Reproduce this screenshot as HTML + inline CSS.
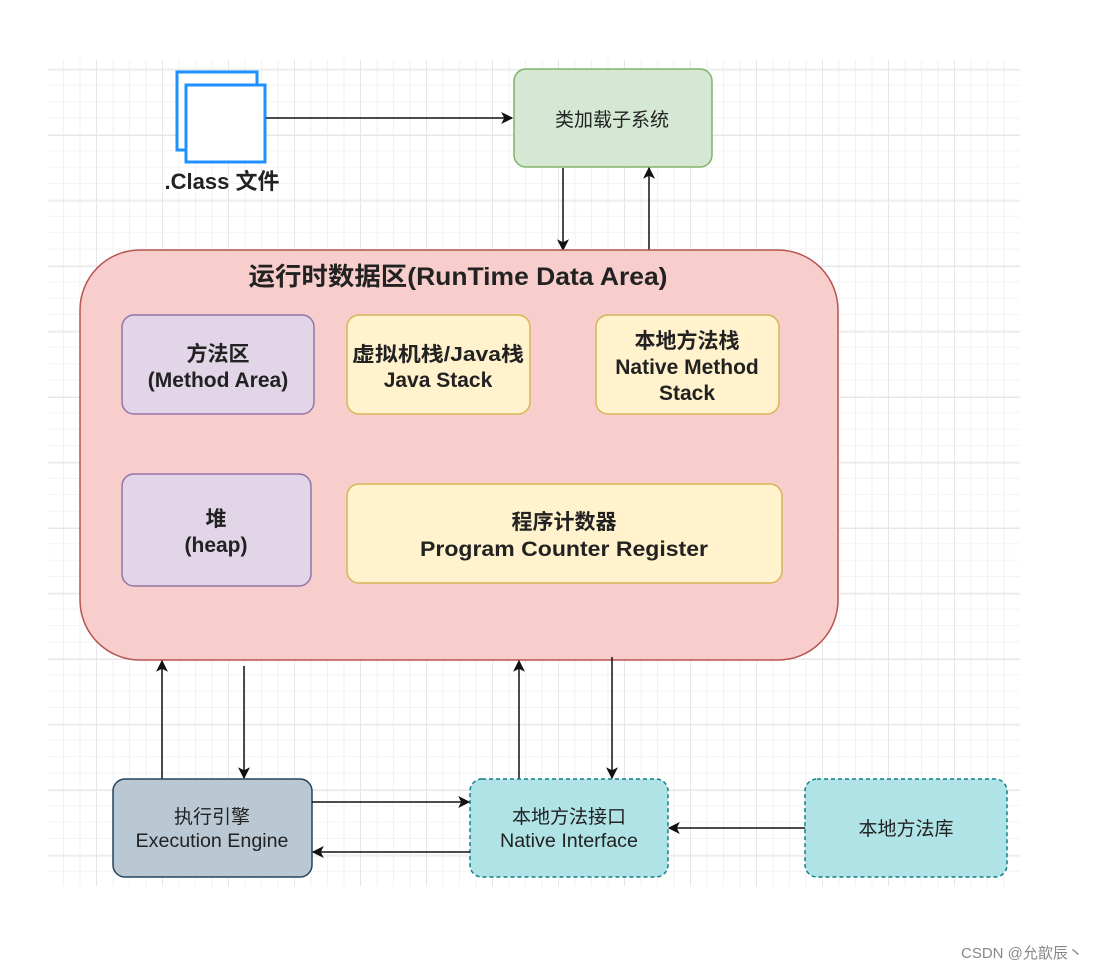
<!DOCTYPE html>
<html><head><meta charset="utf-8"><style>
html,body{margin:0;padding:0;background:#fff;}
svg{display:block;}
text{font-family:"Liberation Sans","Noto Sans CJK SC",sans-serif;fill:#222;}
.b{font-weight:bold;}
</style></head><body>
<svg width="1106" height="969" viewBox="0 0 1106 969" xmlns="http://www.w3.org/2000/svg">
<defs>
<pattern id="minor" x="47.5" y="53" width="16.5" height="16.375" patternUnits="userSpaceOnUse">
<path d="M16 0V17M0 16H17" stroke="#f2f2f2" stroke-width="1" fill="none"/>
</pattern>
<pattern id="major" x="30" y="4" width="66" height="65.5" patternUnits="userSpaceOnUse">
<path d="M0.5 0V66M0 0.5H66" stroke="#e6e6e6" stroke-width="1" fill="none"/>
</pattern>
<marker id="a" viewBox="0 0 10 10" refX="9" refY="5" markerWidth="12" markerHeight="12" markerUnits="userSpaceOnUse" orient="auto">
<path d="M0 0L10 5L0 10L2.5 5z" fill="#111"/>
</marker>
</defs>
<rect x="48" y="60" width="972" height="826" fill="url(#minor)"/>
<rect x="48" y="60" width="972" height="826" fill="url(#major)"/>

<rect x="177" y="72" width="80" height="78" fill="#fff" stroke="#1e90ff" stroke-width="3"/>
<rect x="186" y="85" width="79" height="77" fill="#fff" stroke="#1e90ff" stroke-width="3"/>
<text x="222" y="189" text-anchor="middle" font-size="22" class="b">.Class 文件</text>

<line x1="266" y1="118" x2="512" y2="118" stroke="#111" stroke-width="1.5" marker-end="url(#a)"/>

<rect x="514" y="69" width="198" height="98" rx="12" fill="#d5e8d4" stroke="#82b366" stroke-width="1.5"/>
<text x="612" y="126" text-anchor="middle" font-size="19">类加载子系统</text>

<line x1="563" y1="168" x2="563" y2="250" stroke="#111" stroke-width="1.5" marker-end="url(#a)"/>
<line x1="649" y1="250" x2="649" y2="168" stroke="#111" stroke-width="1.5" marker-end="url(#a)"/>

<rect x="80" y="250" width="758" height="410" rx="60" fill="#f8cecc" stroke="#b85450" stroke-width="1.5"/>
<text x="458" y="285" text-anchor="middle" font-size="25" class="b" textLength="419" lengthAdjust="spacingAndGlyphs">运行时数据区(RunTime Data Area)</text>

<rect x="122" y="315" width="192" height="99" rx="12" fill="#e1d5e7" stroke="#9673a6" stroke-width="1.5"/>
<text x="218" y="361" text-anchor="middle" font-size="21" class="b">方法区</text>
<text x="218" y="387" text-anchor="middle" font-size="21" class="b">(Method Area)</text>

<rect x="347" y="315" width="183" height="99" rx="12" fill="#fff2cc" stroke="#d6b656" stroke-width="1.5"/>
<text x="438" y="361" text-anchor="middle" font-size="20" class="b" textLength="172" lengthAdjust="spacingAndGlyphs">虚拟机栈/Java栈</text>
<text x="438" y="387" text-anchor="middle" font-size="21" class="b">Java Stack</text>

<rect x="596" y="315" width="183" height="99" rx="12" fill="#fff2cc" stroke="#d6b656" stroke-width="1.5"/>
<text x="687" y="348" text-anchor="middle" font-size="21" class="b">本地方法栈</text>
<text x="687" y="374" text-anchor="middle" font-size="21" class="b">Native Method</text>
<text x="687" y="400" text-anchor="middle" font-size="21" class="b">Stack</text>

<rect x="122" y="474" width="189" height="112" rx="12" fill="#e1d5e7" stroke="#9673a6" stroke-width="1.5"/>
<text x="216" y="526" text-anchor="middle" font-size="21" class="b">堆</text>
<text x="216" y="552" text-anchor="middle" font-size="21" class="b">(heap)</text>

<rect x="347" y="484" width="435" height="99" rx="12" fill="#fff2cc" stroke="#d6b656" stroke-width="1.5"/>
<text x="564" y="529" text-anchor="middle" font-size="21" class="b">程序计数器</text>
<text x="564" y="556" text-anchor="middle" font-size="21" class="b" textLength="288" lengthAdjust="spacingAndGlyphs">Program Counter Register</text>

<line x1="162" y1="779" x2="162" y2="661" stroke="#111" stroke-width="1.5" marker-end="url(#a)"/>
<line x1="244" y1="666" x2="244" y2="778" stroke="#111" stroke-width="1.5" marker-end="url(#a)"/>
<line x1="519" y1="779" x2="519" y2="661" stroke="#111" stroke-width="1.5" marker-end="url(#a)"/>
<line x1="612" y1="657" x2="612" y2="778" stroke="#111" stroke-width="1.5" marker-end="url(#a)"/>

<rect x="113" y="779" width="199" height="98" rx="12" fill="#bac8d3" stroke="#23445d" stroke-width="1.5"/>
<text x="212" y="823" text-anchor="middle" font-size="19">执行引擎</text>
<text x="212" y="847" text-anchor="middle" font-size="19" textLength="153" lengthAdjust="spacingAndGlyphs">Execution Engine</text>

<rect x="470" y="779" width="198" height="98" rx="12" fill="#b0e3e6" stroke="#0e8088" stroke-width="1.5" stroke-dasharray="4 3"/>
<text x="569" y="823" text-anchor="middle" font-size="19">本地方法接口</text>
<text x="569" y="847" text-anchor="middle" font-size="19" textLength="138" lengthAdjust="spacingAndGlyphs">Native Interface</text>

<rect x="805" y="779" width="202" height="98" rx="12" fill="#b0e3e6" stroke="#0e8088" stroke-width="1.5" stroke-dasharray="4 3"/>
<text x="906" y="835" text-anchor="middle" font-size="19">本地方法库</text>

<line x1="312" y1="802" x2="469" y2="802" stroke="#111" stroke-width="1.5" marker-end="url(#a)"/>
<line x1="470" y1="852" x2="313" y2="852" stroke="#111" stroke-width="1.5" marker-end="url(#a)"/>
<line x1="805" y1="828" x2="669" y2="828" stroke="#111" stroke-width="1.5" marker-end="url(#a)"/>

<text x="961" y="958" font-size="15" style="fill:#888">CSDN @允歆辰丶</text>
</svg>
</body></html>
